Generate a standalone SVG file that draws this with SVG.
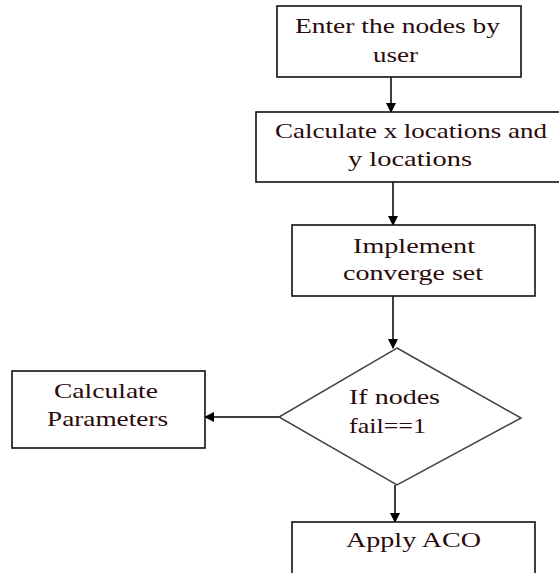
<svg xmlns="http://www.w3.org/2000/svg" width="559" height="573" viewBox="0 0 559 573">
<defs>
<marker id="ah" markerWidth="10" markerHeight="10" refX="9" refY="5" orient="auto" markerUnits="userSpaceOnUse">
<path d="M0,0 L10,5 L0,10 Z" fill="#000"/>
</marker>
<style>
.box{fill:#fff;stroke:#111;stroke-width:1.6}
.dia{fill:#fff;stroke:#444;stroke-width:1.5}
.t{font-family:"Liberation Serif","Times New Roman",serif;font-size:22px;fill:#2a0a0a;lengthAdjust:spacingAndGlyphs}
.c{stroke:#000;stroke-width:1.5;fill:none;marker-end:url(#ah)}
</style>
</defs>
<rect width="559" height="573" fill="#fff"/>
<g id="connectors">
<line class="c" x1="391" y1="77" x2="391" y2="112"/>
<line class="c" x1="393" y1="182" x2="393" y2="225"/>
<line class="c" x1="393" y1="296" x2="393" y2="348"/>
<line class="c" x1="279" y1="417" x2="205" y2="417"/>
<line class="c" x1="395" y1="485" x2="395" y2="522"/>
</g>
<g id="n1">
<rect class="box" x="277" y="6" width="244" height="71"/>
<text class="t" x="295" y="33" textLength="205" lengthAdjust="spacingAndGlyphs">Enter the nodes by</text>
<text class="t" x="373" y="62" textLength="45" lengthAdjust="spacingAndGlyphs">user</text>
</g>
<g id="n2">
<rect class="box" x="256" y="112" width="310" height="70"/>
<text class="t" x="275" y="138" textLength="272" lengthAdjust="spacingAndGlyphs">Calculate x locations and</text>
<text class="t" x="348" y="166" textLength="124" lengthAdjust="spacingAndGlyphs">y locations</text>
</g>
<g id="n3">
<rect class="box" x="292" y="225" width="243" height="71"/>
<text class="t" x="353" y="253" textLength="122" lengthAdjust="spacingAndGlyphs">Implement</text>
<text class="t" x="343" y="280" textLength="140" lengthAdjust="spacingAndGlyphs">converge set</text>
</g>
<g id="n4">
<polygon class="dia" points="397,348 521,418 397,485 279,417"/>
<text class="t" x="349" y="404" textLength="91" lengthAdjust="spacingAndGlyphs">If nodes</text>
<text class="t" x="349" y="433" textLength="77" lengthAdjust="spacingAndGlyphs">fail==1</text>
</g>
<g id="n5">
<rect class="box" x="12" y="371" width="193" height="77"/>
<text class="t" x="54" y="398" textLength="104" lengthAdjust="spacingAndGlyphs">Calculate</text>
<text class="t" x="47" y="426" textLength="121" lengthAdjust="spacingAndGlyphs">Parameters</text>
</g>
<g id="n6">
<rect class="box" x="292" y="522" width="243" height="70"/>
<text class="t" x="346" y="547" textLength="135" lengthAdjust="spacingAndGlyphs">Apply ACO</text>
</g>
</svg>
